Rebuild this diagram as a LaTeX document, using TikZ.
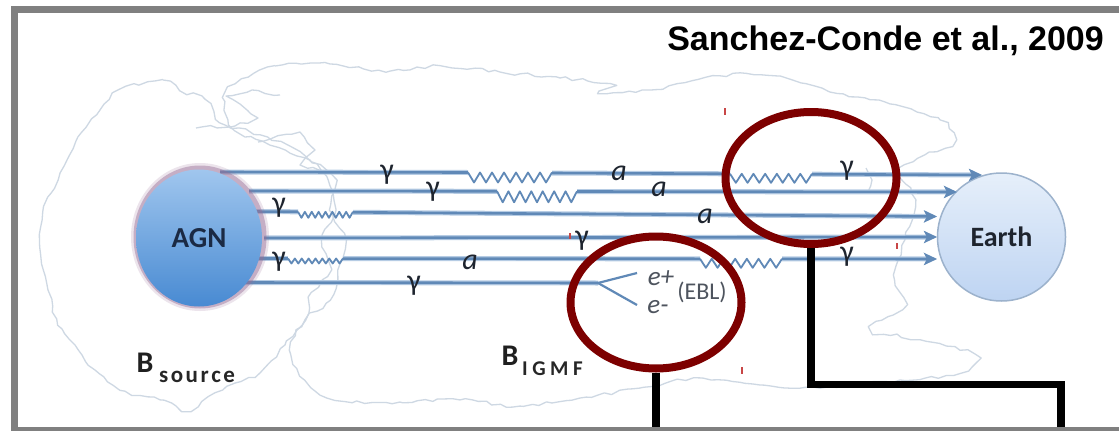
\documentclass[tikz,border=0pt]{standalone}
\usepackage{fontspec}
\setmainfont{Carlito}
\newfontfamily\titlefont{Liberation Sans}
\usetikzlibrary{shapes.geometric,arrows.meta,decorations.pathmorphing,calc}

\definecolor{raycol}{RGB}{96,137,183}
\definecolor{rayglow}{RGB}{182,204,228}
\definecolor{cloudcol}{RGB}{206,216,227}
\definecolor{hlred}{RGB}{125,0,0}
\definecolor{framegray}{RGB}{128,128,128}
\definecolor{labelcol}{RGB}{30,36,46}
\definecolor{eblcol}{RGB}{78,84,94}
\definecolor{agntop}{RGB}{160,198,238}
\definecolor{agnbot}{RGB}{72,138,210}
\definecolor{halocol}{RGB}{150,110,150}
\definecolor{earthtop}{RGB}{230,239,250}
\definecolor{earthbot}{RGB}{190,212,242}
\definecolor{earthline}{RGB}{156,178,204}
\definecolor{tickred}{RGB}{200,70,70}

% zigzag piece of a ray: x1, x2, y, number of strokes, depth
\newcommand{\zigpiece}[5]{%
  \draw[wavy] (#1,#3) \foreach \k in {1,...,#4} { -- ({#1+(#2-#1)*\k/#4},{#3+#5*mod(\k,2)}) };%
}

\begin{document}
\begin{tikzpicture}[x=1pt,y=-1pt,
  ray/.style={draw=raycol, line width=2.6pt, preaction={draw=rayglow, line width=5pt}},
  tip/.style={-{Stealth[length=13pt,width=12pt,inset=3pt]}},
  wavy/.style={draw=raycol, line width=1.8pt, line join=round},
  branch/.style={draw=raycol, line width=2.2pt},
  cloudline/.style={draw=cloudcol, line width=1.3pt, line join=round,
    decorate, decoration={random steps, segment length=7pt, amplitude=1.8pt}},
  gam/.style={font=\fontsize{30}{30}\selectfont, text=labelcol, inner sep=0pt},
  axn/.style={font=\fontsize{30}{30}\selectfont\itshape, text=labelcol, inner sep=0pt},
  lepton/.style={font=\fontsize{27}{27}\selectfont\itshape, text=eblcol, inner sep=0pt},
  blab/.style={font=\fontsize{30}{30}\selectfont\bfseries, text=black!88, inner sep=0pt},
  bsub/.style={font=\fontsize{23}{23}\selectfont\bfseries, text=black!85, inner sep=0pt},
  hilite/.style={ellipse, draw=hlred, line width=8pt, minimum width=171pt,
    minimum height=132pt, inner sep=0pt},
  callout/.style={draw=black, line width=7.5pt},
  tick/.style={draw=tickred, line width=1.4pt}]

\useasboundingbox (0,0) rectangle (1119,431);
\fill[white] (0,0) rectangle (1119,431);
\pgfmathsetseed{42}

% magnetic field regions
\draw[cloudline] plot[smooth cycle, tension=0.55] coordinates {
  (120,90) (163,80) (180,90) (205,100) (220,122) (260,135) (300,152) (328,180)
  (335,210) (322,240) (330,270) (312,293) (305,320) (285,345) (260,372) (215,393)
  (190,410) (160,400) (120,390) (95,370) (75,345) (58,325) (48,290) (40,247)
  (43,212) (60,173) (78,137) (100,110)};
\draw[cloudline] plot[smooth cycle, tension=0.55] coordinates {
  (230,88) (275,66) (330,64) (390,71) (440,66) (500,72) (560,78) (610,84) (600,94)
  (650,90) (720,76) (780,76) (830,92) (890,104) (940,120) (955,140) (925,155)
  (900,170) (915,200) (905,240) (895,280) (905,305) (870,328) (920,340) (975,355)
  (960,373) (900,380) (820,388) (760,385) (700,378) (640,388) (580,398) (520,406)
  (460,400) (400,402) (335,400) (305,380) (290,350) (305,320) (330,300) (338,270)
  (345,240) (330,210) (335,180) (310,160) (270,145) (235,130) (225,110)};
\draw[cloudline] (196,128) -- (235,126) -- (258,118) -- (240,104) -- (226,96) -- (252,90) -- (280,95);
\draw[cloudline] (258,142) -- (300,132) -- (315,150) -- (300,165) -- (330,172);
\draw[cloudline] (866,168) -- (872,180) -- (868,192);

% Earth
\node[circle, minimum size=128pt, inner sep=0pt, top color=earthtop,
  bottom color=earthbot, draw=earthline, line width=1.5pt,
  font=\fontsize{28}{28}\selectfont\bfseries, text=labelcol] (earth) at (1001.5,237) {Earth};

% ray end points
\coordinate (r1a) at (220,172);   \coordinate (r1b) at (982,175);
\coordinate (r2a) at (249,191);   \coordinate (r2b) at (957,192);
\coordinate (r3a) at (253,211.5); \coordinate (r3b) at (937,216.5);
\coordinate (r4a) at (264,238);   \coordinate (r4b) at (937,237);
\coordinate (r5a) at (253,258.5); \coordinate (r5b) at (937,259);
\coordinate (r6a) at (241,282.5); \coordinate (r6s) at (598,283);
\coordinate (ep) at (637,273);    \coordinate (em) at (637,305);

% ray 1: photon -> axion -> photon
\draw[ray] (r1a) -- (468,172.5);
\zigpiece{468}{552}{172.5}{14}{10}
\draw[ray] (552,173) -- (730,173.8);
\zigpiece{730}{812}{173.8}{14}{9}
\draw[ray, tip] (812,174.2) -- (r1b);
% ray 2
\draw[ray] (r2a) -- (497,191.3);
\zigpiece{497}{577}{191.3}{14}{11}
\draw[ray, tip] (577,191.5) -- (r2b);
% ray 3
\draw[ray] (r3a) -- (298,211.8);
\zigpiece{298}{353}{211.8}{16}{6}
\draw[ray, tip] (353,212.3) -- (r3b);
% ray 4
\draw[ray, tip] (r4a) -- (r4b);
% ray 5
\draw[ray] (r5a) -- (288,258.5);
\zigpiece{288}{343}{258.5}{16}{5}
\draw[ray] (343,258.6) -- (700,258.8);
\zigpiece{700}{782}{258.8}{14}{9}
\draw[ray, tip] (782,258.8) -- (r5b);
% ray 6: pair production on the EBL
\draw[ray] (r6a) -- (r6s);
\draw[branch] (r6s) -- (ep);
\draw[branch] (r6s) -- (em);

% AGN with its glow
\fill[halocol, opacity=0.18] (200,237) ellipse [x radius=69pt, y radius=74pt];
\fill[halocol, opacity=0.45] (200,237) ellipse [x radius=66.5pt, y radius=71.5pt];
\node[ellipse, minimum width=126pt, minimum height=137pt, inner sep=0pt,
  top color=agntop, bottom color=agnbot,
  font=\fontsize{29}{29}\selectfont\bfseries, text={rgb,255:red,27;green,42;blue,68}] (agn) at (199,238) {AGN};

% particle labels
\node[gam] (g1) at (387,175) {γ};
\node[gam] (g2) at (433,192) {γ};
\node[gam] (g3) at (279,208) {γ};
\node[gam] (g4) at (582,241) {γ};
\node[gam] (g5) at (279,262) {γ};
\node[gam] (g6) at (414,286) {γ};
\node[gam] (g7) at (847,171) {γ};
\node[gam] (g8) at (847,257) {γ};
\node[axn] (a1) at (619,173) {a};
\node[axn] (a2) at (659,189) {a};
\node[axn] (a3) at (705,216) {a};
\node[axn] (a4) at (470,262) {a};
\node[lepton] (eplus) at (661,278) {e+};
\node[lepton] (eminus) at (658,307) {e-};
\node[font=\fontsize{24}{24}\selectfont, text=eblcol, inner sep=0pt] (ebl) at (702,292.5) {(EBL)};

% field labels
\node[blab] (bsrc) at (145,363) {B};
\node[bsub, anchor=west] (bsrcsub) at (159,377) {s\kern2.5pt o\kern2.5pt u\kern2.5pt r\kern2.5pt c\kern2.5pt e};
\node[blab] (bigm) at (510,356) {B};
\node[bsub, font=\fontsize{21}{21}\selectfont\bfseries, anchor=west] (bigmsub) at (522,369) {I\kern4.5pt G\kern4.5pt M\kern4.5pt F};

% highlighted regions and their callout lines
\node[hilite] (hl1) at (811,178) {};
\node[hilite] (hl2) at (656,302.5) {};
\coordinate (k1) at (1061,384.5);
\coordinate (k1end) at (1061,445);
\coordinate (k2end) at (656,445);
\draw[callout] (hl1.south) |- (k1) -- (k1end);
\draw[callout] (hl2.south) -- (k2end);

% small red marks
\draw[tick] (725,108) -- (725,115);
\draw[tick] (897,243) -- (897,249);
\draw[tick] (742,367) -- (742,374);
\draw[tick] (570,233) -- (570,239);

% frame and citation
\draw[draw=framegray, line width=7pt] (14.5,9.5) rectangle (1150,430.5);
\node[anchor=base east, inner sep=0pt, font=\titlefont\bfseries\fontsize{34}{34}\selectfont] (title) at (1104,50) {Sanchez-Conde et al., 2009};

\end{tikzpicture}
\end{document}
